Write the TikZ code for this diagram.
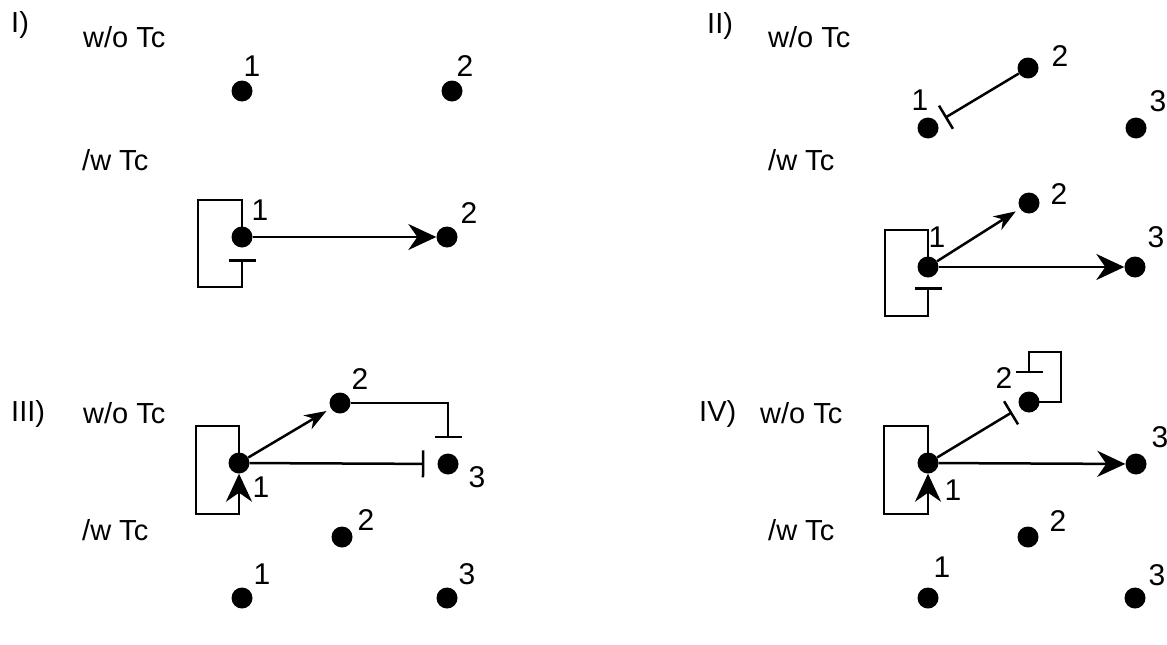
\documentclass[tikz,border=0pt]{standalone}
\usepackage{fontspec}
\setmainfont{Liberation Sans}
\usetikzlibrary{arrows.meta}

\begin{document}
\begin{tikzpicture}[x=1pt,y=-1pt]
\tikzset{
  dot/.style={circle, fill=black, inner sep=0pt, minimum size=21pt},
  lbl/.style={font=\fontsize{30}{32}\selectfont, inner sep=0pt},
  ttl/.style={font=\fontsize{29}{31}\selectfont, inner sep=0pt, anchor=base west},
  link/.style={line width=2.5pt},
  act/.style={link, -{Stealth[length=28pt,width=26pt,inset=9pt]}},
  actsmall/.style={link, -{Stealth[length=22pt,width=16pt,inset=7pt]}, shorten >=5pt},
  inh/.style={link, -{Bar[width=27pt]}}
}
\useasboundingbox[fill=white] (0,0) rectangle (1167,645);

% ---------- Panel I ----------
\node[ttl] (tI) at (11,32) {I)};
\node[ttl] (tIa) at (83,47) {w/o Tc};
\node[ttl] (tIb) at (82,170) {/w Tc};
\node[dot] (a1) at (242,91) {};
\node[dot] (a2) at (452,91) {};
\node[lbl] (la1) at (252,66) {1};
\node[lbl] (la2) at (465,66) {2};
\node[dot] (e1) at (242,237) {};
\node[dot] (e2) at (447,237) {};
\node[lbl] (le1) at (260,210) {1};
\node[lbl] (le2) at (469,213) {2};
\draw[act] (e1) -- (e2);
\draw[inh] (e1.center) -- ++(0,-37) -- ++(-44,0) -- ++(0,87) -- ++(44,0) -- ++(0,-28);

% ---------- Panel II ----------
\node[ttl] (tII) at (707,33) {II)};
\node[ttl] (tIIa) at (768,47) {w/o Tc};
\node[ttl] (tIIb) at (768,170) {/w Tc};
\node[dot] (b1) at (928,128) {};
\node[dot] (b2) at (1028,68) {};
\node[dot] (b3) at (1136,128) {};
\node[lbl] (lb1) at (920,100) {1};
\node[lbl] (lb2) at (1060,56) {2};
\node[lbl] (lb3) at (1158,101) {3};
\draw[inh, shorten >=9pt] (b2) -- (b1);
\node[dot] (f1) at (928,267) {};
\node[dot] (f2) at (1029,203) {};
\node[dot] (f3) at (1135,267) {};
\node[lbl] (lf1) at (937,237) {1};
\node[lbl] (lf2) at (1059,194) {2};
\node[lbl] (lf3) at (1156,237) {3};
\draw[actsmall] (f1) -- (f2);
\draw[act] (f1) -- (f3);
\draw[inh] (f1.center) -- ++(0,-37) -- ++(-43,0) -- ++(0,86) -- ++(43,0) -- ++(0,-29);

% ---------- Panel III ----------
\node[ttl] (tIII) at (11,421) {III)};
\node[ttl] (tIIIa) at (83,423) {w/o Tc};
\node[ttl] (tIIIb) at (82,540) {/w Tc};
\node[dot] (c1) at (239,463) {};
\node[dot] (c2) at (340,403) {};
\node[dot] (c3) at (448,464) {};
\node[lbl] (lc1) at (261,487) {1};
\node[lbl] (lc2) at (360,379) {2};
\node[lbl] (lc3) at (477,477) {3};
\draw[actsmall] (c1) -- (c2);
\draw[inh, shorten >=13pt] (c1) -- (c3);
\draw[inh] (c2.east) -| ([yshift=15pt]c3.north);
\draw[act] (c1.center) -- ++(0,-37) -- ++(-43,0) -- ++(0,88) -- ++(43,0) -- (c1.south);
\node[dot] (g1) at (242,598) {};
\node[dot] (g2) at (342,537) {};
\node[dot] (g3) at (447,598) {};
\node[lbl] (lg1) at (262,574) {1};
\node[lbl] (lg2) at (366,520) {2};
\node[lbl] (lg3) at (467,574) {3};

% ---------- Panel IV ----------
\node[ttl] (tIV) at (699,421) {IV)};
\node[ttl] (tIVa) at (760,423) {w/o Tc};
\node[ttl] (tIVb) at (768,540) {/w Tc};
\node[dot] (d1) at (928,463) {};
\node[dot] (d2) at (1029,402) {};
\node[dot] (d3) at (1136,464) {};
\node[lbl] (ld1) at (953,490) {1};
\node[lbl] (ld2) at (1004,378) {2};
\node[lbl] (ld3) at (1160,437) {3};
\draw[inh, shorten >=9pt] (d1) -- (d2);
\draw[act] (d1) -- (d3);
\draw[inh] (d2.center) -- ++(32,0) -- ++(0,-50) -- ++(-32,0) -- ++(0,21);
\draw[act] (d1.center) -- ++(0,-37) -- ++(-44,0) -- ++(0,88) -- ++(44,0) -- (d1.south);
\node[dot] (h1) at (928,598) {};
\node[dot] (h2) at (1028,537) {};
\node[dot] (h3) at (1135,598) {};
\node[lbl] (lh1) at (942,567) {1};
\node[lbl] (lh2) at (1058,521) {2};
\node[lbl] (lh3) at (1157,575) {3};
\end{tikzpicture}
\end{document}
